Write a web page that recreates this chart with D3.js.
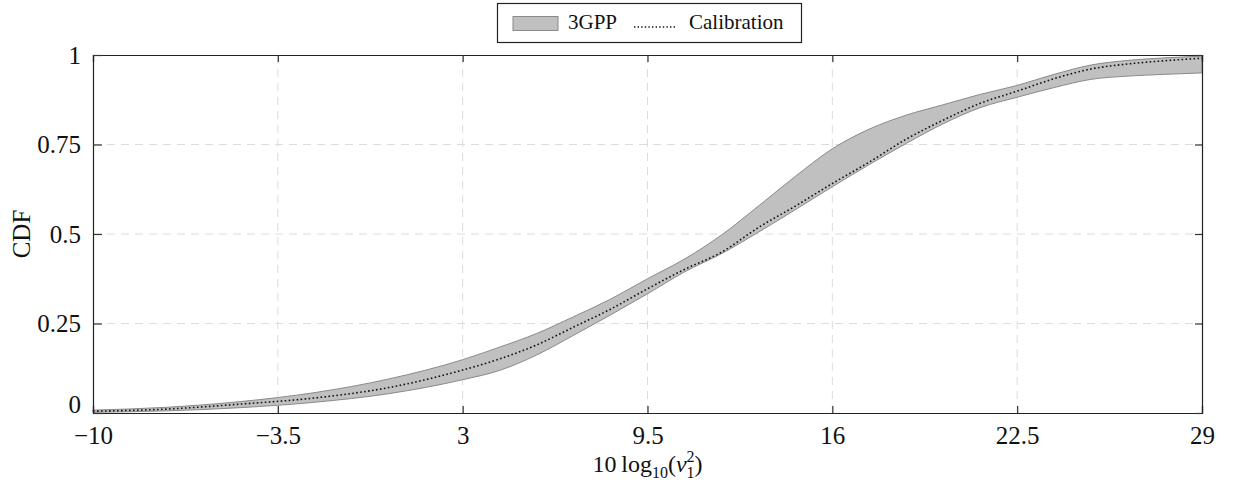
<!DOCTYPE html>
<html>
<head>
<meta charset="utf-8">
<script src="https://cdn.jsdelivr.net/npm/d3@7"></script>
<style>
  body { margin: 0; background: #fff; }
  text { font-family: "Liberation Serif", "DejaVu Serif", serif; fill: #111; }
</style>
</head>
<body>
<svg id="chart"></svg>
<script>
// values
const xs = [-10, -7.4, -4.8, -2.2, 0.4, 3, 4.3, 5.6, 6.9, 8.2, 9.5, 10.8, 12.1, 13.4, 14.7, 16, 17.3, 18.6, 19.9, 21.2, 22.5, 23.8, 25.1, 26.4, 27.7, 29];
const upper = [0.008, 0.016, 0.032, 0.057, 0.095, 0.149, 0.184, 0.222, 0.269, 0.318, 0.375, 0.430, 0.497, 0.578, 0.661, 0.738, 0.793, 0.832, 0.861, 0.890, 0.915, 0.946, 0.972, 0.985, 0.992, 0.997];
const calib = [0.005, 0.011, 0.025, 0.042, 0.071, 0.120, 0.151, 0.190, 0.240, 0.290, 0.347, 0.401, 0.449, 0.518, 0.578, 0.641, 0.701, 0.765, 0.818, 0.865, 0.899, 0.934, 0.961, 0.975, 0.984, 0.991];
const lower = [0.002, 0.006, 0.015, 0.030, 0.054, 0.093, 0.119, 0.162, 0.217, 0.274, 0.333, 0.394, 0.445, 0.505, 0.568, 0.632, 0.694, 0.753, 0.808, 0.853, 0.882, 0.909, 0.932, 0.941, 0.946, 0.950];
const xTicks = [-10, -3.5, 3, 9.5, 16, 22.5, 29];
const yTicks = [0, 0.25, 0.5, 0.75, 1];

const W = 1236, H = 483;
const margin = {top: 55, right: 34, bottom: 70, left: 93};
const iw = W - margin.left - margin.right;
const ih = H - margin.top - margin.bottom;

const svg = d3.select("#chart").attr("width", W).attr("height", H);
const g = svg.append("g").attr("transform", "translate(" + margin.left + "," + margin.top + ")");

const x = d3.scaleLinear().domain([-10, 29]).range([0, iw]);
const y = d3.scaleLinear().domain([0, 1]).range([ih, 0]);

// grid
g.append("g").selectAll("line").data(xTicks.slice(1, -1)).join("line")
  .attr("x1", d => x(d)).attr("x2", d => x(d)).attr("y1", 0).attr("y2", ih)
  .attr("stroke", "#dcdcdc").attr("stroke-dasharray", "8,6");
g.append("g").selectAll("line").data(yTicks.slice(1, -1)).join("line")
  .attr("y1", d => y(d)).attr("y2", d => y(d)).attr("x1", 0).attr("x2", iw)
  .attr("stroke", "#dcdcdc").attr("stroke-dasharray", "8,6");

const pts = xs.map((v, i) => ({x: v, hi: upper[i], lo: lower[i], c: calib[i]}));

const area = d3.area().curve(d3.curveMonotoneX)
  .x(d => x(d.x)).y0(d => y(d.lo)).y1(d => y(d.hi));
g.append("path").datum(pts).attr("d", area)
  .attr("fill", "#c0c0c0").attr("stroke", "#8a8a8a").attr("stroke-width", 1);

const line = d3.line().curve(d3.curveMonotoneX).x(d => x(d.x)).y(d => y(d.c));
g.append("path").datum(pts).attr("d", line)
  .attr("fill", "none").attr("stroke", "#111").attr("stroke-width", 1.6)
  .attr("stroke-dasharray", "1.6,2.4");

// axes with inward ticks on all sides
const fmt = d => (d < 0 ? "\u2212" + Math.abs(d) : String(d));
const xb = g.append("g").attr("transform", "translate(0," + ih + ")")
  .call(d3.axisBottom(x).tickValues(xTicks).tickSize(-7).tickPadding(13).tickFormat(fmt));
const xt = g.append("g").call(d3.axisTop(x).tickValues(xTicks).tickSize(-7).tickFormat(""));
const yl = g.append("g")
  .call(d3.axisLeft(y).tickValues(yTicks).tickSize(-9).tickPadding(12).tickFormat(d => String(d)));
const yr = g.append("g").attr("transform", "translate(" + iw + ",0)")
  .call(d3.axisRight(y).tickValues(yTicks).tickSize(-7).tickFormat(""));

[xb, xt, yl, yr].forEach(a => {
  a.select(".domain").attr("stroke", "#222").attr("stroke-width", 1.2);
  a.selectAll(".tick line").attr("stroke", "#333").attr("stroke-width", 1.2);
  a.selectAll("text").style("font-family", "'Liberation Serif', serif").style("font-size", "25px").attr("fill", "#111");
});
xb.selectAll(".tick text").attr("dy", "0.71em");
yl.selectAll(".tick text").attr("dy", d => d === 0 ? "-0.02em" : "0.32em");

// axis labels
const xl = svg.append("text").attr("x", margin.left + iw / 2).attr("y", 472)
  .attr("text-anchor", "middle").style("font-size", "24px");
xl.append("tspan").text("10\u2009log");
xl.append("tspan").attr("dy", 6).style("font-size", "16px").text("10");
xl.append("tspan").attr("dy", -6).text("(");
xl.append("tspan").style("font-style", "italic").text("v");
xl.append("tspan").attr("dy", -10).style("font-size", "16px").text("2");
xl.append("tspan").attr("dx", -8).attr("dy", 16).style("font-size", "16px").text("1");
xl.append("tspan").attr("dy", -6).text(")");

svg.append("text").attr("transform", "translate(30," + (margin.top + ih / 2) + ") rotate(-90)")
  .attr("text-anchor", "middle").style("font-size", "25px").text("CDF");

// legend
const lg = svg.append("g");
lg.append("rect").attr("x", 497.5).attr("y", 3.5).attr("width", 304).attr("height", 39)
  .attr("fill", "#fff").attr("stroke", "#222").attr("stroke-width", 1.2);
lg.append("rect").attr("x", 513).attr("y", 16.5).attr("width", 45).attr("height", 14)
  .attr("fill", "#c0c0c0").attr("stroke", "#8a8a8a");
lg.append("text").attr("x", 568).attr("y", 29).style("font-size", "21px").text("3GPP");
lg.append("line").attr("x1", 634).attr("x2", 677).attr("y1", 27).attr("y2", 27)
  .attr("stroke", "#111").attr("stroke-width", 1.4).attr("stroke-dasharray", "1.4,2.2");
lg.append("text").attr("x", 689).attr("y", 29).style("font-size", "21px").text("Calibration");
</script>
</body>
</html>
